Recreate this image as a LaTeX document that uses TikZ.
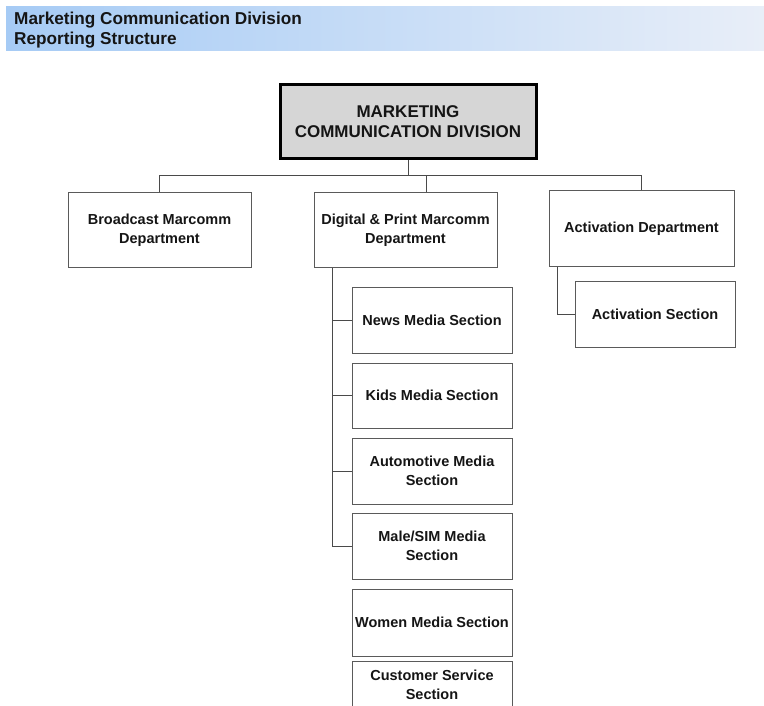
\documentclass[tikz,border=0pt]{standalone}
\usepackage{fontspec}
\setmainfont{Liberation Sans}
\definecolor{hdrL}{HTML}{A6CBF5}
\definecolor{hdrR}{HTML}{E8EEF8}
\definecolor{boxline}{HTML}{5A5A5A}
\definecolor{conn}{HTML}{4A4A4A}
\definecolor{topfill}{HTML}{D6D6D6}
\definecolor{txt}{HTML}{151515}
\begin{document}
\begin{tikzpicture}[x=1pt,y=-1pt,
  unit/.style={draw=boxline,line width=1pt,fill=white,inner sep=0pt,align=center,
    text=txt,font=\bfseries\fontsize{14.5}{19}\selectfont},
  dept/.style={unit,minimum width=183pt,minimum height=75pt},
  sect/.style={unit,minimum width=160pt,minimum height=66pt},
  topbox/.style={draw=black,line width=3pt,fill=topfill,inner sep=0pt,align=center,
    minimum width=256pt,minimum height=74pt,text=txt,font=\bfseries\fontsize{17}{20}\selectfont},
  hdrtext/.style={anchor=base west,inner sep=0pt,text=txt,font=\bfseries\fontsize{17.2}{20}\selectfont},
  link/.style={draw=conn,line width=1pt}]
\useasboundingbox (0,0) rectangle (764,706);
\clip (0,0) rectangle (764,706);
\fill[white] (0,0) rectangle (764,706);
% header band
\shade[left color=hdrL,right color=hdrR] (6,7) rectangle (764,51);
\node[hdrtext] (hdr1) at (14,25) {Marketing Communication Division};
\node[hdrtext] (hdr2) at (14,45) {Reporting Structure};
% nodes
\node[topbox] (top) at (408,122) {MARKETING\\COMMUNICATION DIVISION};
\node[dept] (broad) at (159.5,230.5) {Broadcast Marcomm\\Department};
\node[dept] (dig) at (405.5,230.5) {Digital \& Print Marcomm\\Department};
\node[dept,minimum width=185pt,minimum height=76pt] (act) at (641.5,228.5) {Activation Department};
\node[sect] (news) at (432,320) {News Media Section};
\node[sect,minimum height=65pt] (kids) at (432,395.5) {Kids Media Section};
\node[sect] (auto) at (432,471) {Automotive Media\\Section};
\node[sect] (male) at (432,546) {Male/SIM Media\\Section};
\node[sect,minimum height=67pt] (women) at (432,622.5) {Women Media Section};
\node[sect,minimum height=47pt] (cust) at (432,684.5) {Customer Service\\Section};
\node[sect] (actsec) at (655,314) {Activation Section};
% connectors
\coordinate (bus) at (408,176);
\coordinate (dtop) at ([xshift=20.5pt]dig.north);
\coordinate (dstem) at ([xshift=19pt]dig.south west);
\coordinate (astem) at ([xshift=9pt]act.south west);
\draw[link] (top.south) -- (bus);
\draw[link] (broad.north) |- (bus);
\draw[link] (act.north) |- (bus);
\draw[link] (dtop) -- (dtop |- bus);
\draw[link] (dstem) |- (male.west);
\draw[link] (news.west) -- (news.west -| dstem);
\draw[link] (kids.west) -- (kids.west -| dstem);
\draw[link] (auto.west) -- (auto.west -| dstem);
\draw[link] (astem) |- (actsec.west);
\end{tikzpicture}
\end{document}
